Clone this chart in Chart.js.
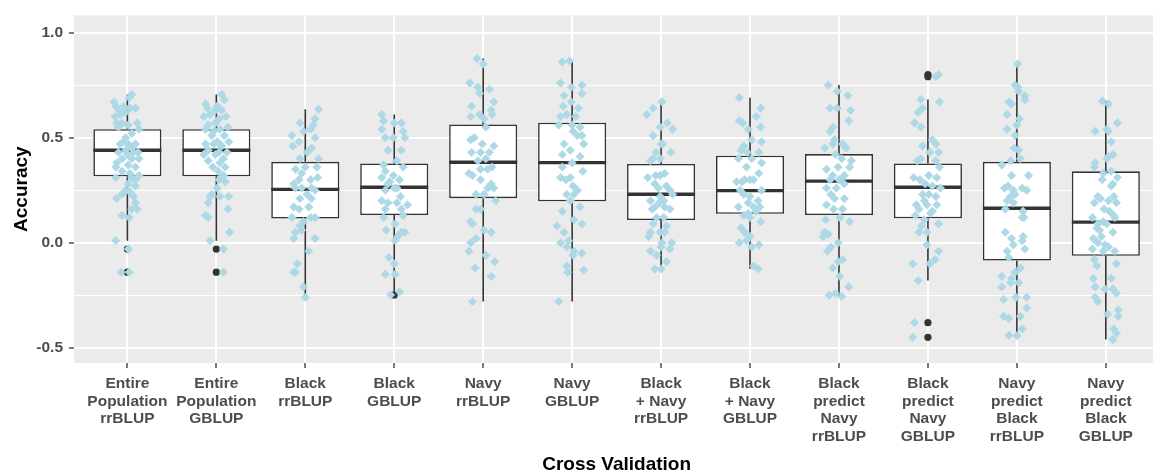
<!DOCTYPE html>
<html>
<head>
<meta charset="utf-8">
<script src="https://cdn.jsdelivr.net/npm/chart.js@4.4.1/dist/chart.umd.min.js"></script>
<style>
  html, body { margin: 0; padding: 0; background: #ffffff; overflow: hidden; width: 1153px; height: 476px; }
  canvas { display: block; }
</style>
</head>
<body>
<canvas id="chart" width="1164" height="476"></canvas>
<script>
// Cross-validation schemes (x categories), each label split into lines
const categoryLabels = [
  ['Entire', 'Population', 'rrBLUP'],
  ['Entire', 'Population', 'GBLUP'],
  ['Black', 'rrBLUP'],
  ['Black', 'GBLUP'],
  ['Navy', 'rrBLUP'],
  ['Navy', 'GBLUP'],
  ['Black', '+ Navy', 'rrBLUP'],
  ['Black', '+ Navy', 'GBLUP'],
  ['Black', 'predict', 'Navy', 'rrBLUP'],
  ['Black', 'predict', 'Navy', 'GBLUP'],
  ['Navy', 'predict', 'Black', 'rrBLUP'],
  ['Navy', 'predict', 'Black', 'GBLUP']
];

// Box summaries per scheme
const whiskerLow  = [0.01, 0.01, -0.26, -0.233, -0.28, -0.28, -0.125, -0.124, -0.256, -0.18, -0.442, -0.46];
const lowerQuart  = [0.316, 0.316, 0.115, 0.132, 0.212, 0.197, 0.108, 0.138, 0.132, 0.116, -0.085, -0.062];
const medians     = [0.44, 0.44, 0.254, 0.264, 0.383, 0.381, 0.231, 0.248, 0.293, 0.264, 0.164, 0.098];
const upperQuart  = [0.54, 0.54, 0.385, 0.377, 0.563, 0.571, 0.375, 0.414, 0.422, 0.377, 0.385, 0.34];
const whiskerHigh = [0.705, 0.705, 0.635, 0.61, 0.876, 0.865, 0.671, 0.69, 0.75, 0.682, 0.85, 0.675];

// Outlying runs: [scheme index, accuracy]
const outliers = [[0, -0.03], [0, -0.14], [1, -0.03], [1, -0.14], [3, -0.248],
                  [9, 0.80], [9, 0.79], [9, -0.38], [9, -0.45]];

// Individual runs per scheme: [jitter, accuracy]
const entirePopRR = [[0.05,0.705],[0.02,0.69],[-0.15,0.67],[-0.13,0.65],[-0.04,0.65],[0.09,0.64],[0.03,0.64],[-0.10,0.63],[-0.02,0.62],[-0.14,0.60],[-0.08,0.61],[0.11,0.57],[-0.12,0.57],[-0.06,0.57],[0.01,0.56],[0.13,0.54],[-0.10,0.55],[0.05,0.52],[-0.02,0.50],[-0.04,0.48],[-0.08,0.47],[0.01,0.47],[0.09,0.47],[0.05,0.45],[-0.02,0.44],[0.07,0.43],[0.12,0.43],[-0.10,0.43],[0.00,0.42],[-0.06,0.40],[0.05,0.40],[0.13,0.40],[-0.12,0.38],[0.01,0.37],[-0.13,0.36],[0.09,0.36],[-0.06,0.34],[0.03,0.33],[0.13,0.32],[0.05,0.31],[-0.13,0.31],[0.09,0.30],[0.01,0.28],[0.09,0.27],[-0.02,0.25],[0.03,0.24],[-0.06,0.23],[-0.12,0.21],[0.07,0.22],[0.09,0.19],[0.05,0.16],[0.11,0.16],[-0.06,0.13],[0.02,0.12],[-0.13,0.01],[0.01,-0.03],[-0.07,-0.14],[0.02,-0.14]];
const entirePopGB = [[0.06,0.705],[0.09,0.68],[-0.12,0.66],[0.01,0.65],[-0.10,0.64],[-0.01,0.63],[0.06,0.63],[-0.07,0.61],[-0.14,0.60],[0.03,0.59],[0.11,0.60],[-0.09,0.56],[-0.01,0.57],[0.13,0.55],[-0.12,0.54],[0.04,0.54],[0.09,0.51],[-0.05,0.51],[0.14,0.48],[0.01,0.48],[-0.12,0.47],[-0.03,0.47],[0.06,0.46],[-0.09,0.44],[0.03,0.43],[0.12,0.43],[-0.14,0.42],[-0.01,0.42],[0.08,0.40],[-0.09,0.39],[0.04,0.38],[-0.04,0.36],[0.10,0.36],[0.02,0.34],[0.08,0.32],[0.03,0.30],[0.10,0.29],[0.01,0.26],[-0.05,0.23],[0.14,0.22],[0.04,0.22],[-0.07,0.22],[0.13,0.16],[-0.09,0.19],[-0.12,0.13],[-0.09,0.12],[0.15,0.05],[-0.07,0.01],[0.08,-0.03],[0.08,-0.14],[0.03,0.47],[-0.03,0.53]];
const blackRR = [[0.15,0.635],[0.11,0.59],[-0.06,0.57],[0.09,0.56],[-0.02,0.53],[0.06,0.54],[-0.15,0.51],[-0.07,0.48],[0.11,0.50],[-0.14,0.46],[0.07,0.45],[0.02,0.43],[0.15,0.40],[-0.06,0.40],[-0.11,0.35],[0.00,0.36],[0.13,0.36],[-0.04,0.33],[0.14,0.31],[-0.13,0.28],[0.06,0.30],[-0.04,0.26],[-0.11,0.26],[0.11,0.25],[0.02,0.23],[-0.06,0.21],[0.07,0.21],[-0.13,0.17],[0.04,0.17],[-0.07,0.16],[-0.15,0.12],[0.06,0.12],[-0.02,0.10],[0.11,0.12],[-0.06,0.08],[-0.11,0.05],[-0.13,0.02],[-0.04,0.06],[0.11,0.02],[0.04,-0.04],[-0.09,-0.10],[-0.11,-0.14],[-0.13,-0.14],[-0.02,-0.21],[0.00,-0.26],[0.07,0.26],[-0.07,0.30]];
const blackGB = [[-0.14,0.61],[-0.12,0.58],[0.00,0.57],[0.08,0.57],[-0.14,0.54],[0.10,0.53],[-0.10,0.50],[-0.01,0.50],[0.12,0.50],[-0.07,0.44],[0.08,0.44],[-0.12,0.37],[0.03,0.39],[0.10,0.36],[-0.10,0.34],[-0.14,0.31],[-0.01,0.32],[0.06,0.30],[-0.07,0.28],[0.03,0.26],[-0.10,0.25],[0.07,0.22],[-0.14,0.20],[-0.07,0.19],[0.03,0.19],[0.15,0.18],[-0.10,0.16],[0.08,0.16],[-0.12,0.12],[0.10,0.13],[-0.09,0.06],[0.01,0.09],[0.08,0.05],[0.04,0.03],[0.12,0.05],[0.01,0.01],[-0.06,-0.07],[0.00,-0.10],[-0.10,-0.15],[0.01,-0.15],[0.06,-0.233],[-0.04,-0.248],[0.00,0.26],[-0.05,0.29]];
const navyRR = [[-0.07,0.876],[0.00,0.85],[-0.15,0.76],[-0.06,0.74],[0.07,0.73],[-0.04,0.71],[-0.13,0.65],[0.12,0.67],[0.09,0.63],[-0.14,0.60],[0.01,0.59],[0.10,0.61],[-0.04,0.61],[0.03,0.55],[-0.14,0.49],[-0.10,0.50],[-0.01,0.47],[0.12,0.46],[-0.13,0.43],[-0.03,0.43],[0.07,0.43],[0.03,0.40],[-0.06,0.39],[0.10,0.36],[0.05,0.35],[-0.16,0.33],[-0.03,0.35],[-0.12,0.32],[-0.03,0.30],[0.09,0.28],[0.05,0.26],[0.12,0.26],[-0.08,0.23],[0.01,0.23],[0.14,0.20],[-0.08,0.16],[-0.03,0.16],[-0.14,0.10],[-0.12,0.09],[0.01,0.06],[0.09,0.05],[-0.08,0.02],[-0.14,0.00],[-0.16,-0.04],[0.03,-0.06],[0.13,-0.09],[-0.09,-0.12],[0.09,-0.16],[-0.12,-0.28]];
const navyGB = [[-0.11,0.86],[-0.03,0.865],[-0.13,0.76],[-0.01,0.74],[0.11,0.75],[-0.09,0.70],[0.11,0.71],[-0.01,0.67],[-0.10,0.65],[0.07,0.64],[-0.06,0.61],[0.04,0.60],[-0.13,0.60],[-0.15,0.56],[0.00,0.56],[0.09,0.55],[0.01,0.53],[0.06,0.51],[0.11,0.51],[0.13,0.47],[-0.09,0.47],[-0.02,0.44],[-0.11,0.42],[0.09,0.41],[-0.11,0.36],[0.00,0.38],[0.12,0.34],[-0.13,0.31],[-0.02,0.31],[0.01,0.27],[-0.07,0.30],[0.06,0.25],[0.02,0.23],[-0.06,0.23],[0.09,0.17],[-0.11,0.15],[0.02,0.11],[0.11,0.09],[-0.17,0.08],[-0.09,0.05],[-0.13,0.00],[-0.04,0.01],[-0.06,-0.02],[0.02,-0.04],[0.11,-0.05],[0.01,-0.06],[-0.06,-0.11],[-0.05,-0.14],[0.13,-0.13],[-0.15,-0.28],[-0.02,0.20]];
const blackNavyRR = [[0.01,0.671],[-0.09,0.64],[-0.16,0.61],[-0.01,0.55],[0.07,0.57],[0.13,0.54],[-0.09,0.51],[0.00,0.47],[0.02,0.47],[0.11,0.43],[-0.06,0.43],[-0.09,0.40],[-0.01,0.40],[-0.12,0.39],[0.04,0.33],[-0.15,0.31],[-0.06,0.32],[-0.01,0.32],[-0.07,0.28],[0.06,0.27],[0.10,0.25],[-0.03,0.26],[0.13,0.23],[-0.12,0.20],[-0.01,0.22],[-0.07,0.17],[0.04,0.17],[-0.10,0.16],[0.10,0.16],[-0.05,0.12],[0.03,0.12],[-0.09,0.09],[0.06,0.08],[-0.12,0.05],[-0.01,0.05],[-0.14,0.03],[0.04,0.05],[0.01,0.00],[0.12,0.00],[0.00,-0.02],[-0.12,-0.04],[0.10,-0.03],[-0.05,-0.06],[0.06,-0.09],[-0.07,-0.125],[0.00,-0.125],[-0.02,0.19],[0.03,0.20]];
const blackNavyGB = [[-0.12,0.69],[0.12,0.64],[0.07,0.60],[-0.12,0.58],[-0.08,0.57],[0.12,0.55],[-0.02,0.54],[0.02,0.49],[0.13,0.48],[-0.07,0.46],[-0.10,0.44],[-0.03,0.43],[0.10,0.43],[-0.13,0.40],[0.02,0.40],[0.13,0.38],[-0.04,0.36],[0.10,0.33],[0.00,0.30],[-0.15,0.29],[-0.09,0.29],[-0.06,0.30],[0.04,0.30],[-0.11,0.25],[0.13,0.25],[-0.07,0.23],[0.00,0.22],[0.09,0.20],[-0.13,0.17],[0.04,0.17],[-0.02,0.14],[0.11,0.17],[0.07,0.15],[-0.07,0.13],[0.00,0.12],[0.12,0.10],[-0.10,0.07],[-0.06,0.05],[0.00,0.03],[-0.12,0.00],[-0.04,0.01],[0.10,-0.01],[0.02,-0.02],[0.04,-0.11],[0.09,-0.124],[-0.02,0.19]];
const blackPredNavyRR = [[-0.12,0.75],[-0.02,0.72],[0.10,0.70],[-0.10,0.64],[-0.02,0.64],[0.13,0.63],[0.11,0.58],[-0.07,0.55],[-0.10,0.53],[-0.05,0.49],[-0.07,0.47],[0.04,0.47],[-0.16,0.45],[0.08,0.45],[-0.04,0.42],[0.14,0.39],[0.03,0.40],[-0.14,0.35],[-0.01,0.36],[0.12,0.36],[-0.07,0.32],[0.06,0.32],[-0.10,0.30],[0.01,0.30],[-0.14,0.26],[-0.03,0.26],[0.06,0.28],[-0.09,0.23],[-0.05,0.21],[0.06,0.21],[-0.14,0.18],[0.04,0.16],[-0.06,0.16],[0.01,0.12],[0.12,0.10],[-0.15,0.11],[-0.16,0.05],[-0.12,0.04],[-0.18,0.03],[-0.01,0.00],[-0.09,-0.02],[-0.13,-0.04],[0.04,-0.08],[-0.01,-0.09],[-0.07,-0.12],[0.01,-0.16],[0.11,-0.21],[-0.11,-0.25],[-0.04,-0.24],[0.03,-0.256],[0.00,0.30]];
const blackPredNavyGB = [[0.09,0.79],[0.12,0.80],[-0.08,0.682],[0.13,0.67],[-0.06,0.64],[-0.11,0.62],[-0.15,0.57],[-0.08,0.55],[0.05,0.49],[0.09,0.47],[-0.06,0.46],[0.12,0.43],[0.02,0.43],[-0.12,0.39],[-0.08,0.40],[0.09,0.39],[0.13,0.36],[-0.16,0.31],[-0.09,0.30],[0.01,0.32],[0.10,0.31],[-0.03,0.28],[0.05,0.27],[0.14,0.26],[-0.06,0.23],[0.01,0.23],[0.09,0.22],[-0.13,0.18],[-0.01,0.18],[0.10,0.18],[-0.10,0.16],[0.05,0.15],[-0.14,0.13],[-0.04,0.11],[0.12,0.09],[-0.07,0.08],[-0.10,0.05],[-0.01,0.05],[-0.01,-0.01],[0.12,-0.04],[0.08,-0.08],[0.02,-0.10],[-0.17,-0.10],[-0.11,-0.18],[-0.15,-0.38],[-0.17,-0.45],[0.03,0.14],[-0.04,0.20]];
const navyPredBlackRR = [[0.01,0.85],[-0.02,0.75],[0.01,0.74],[0.02,0.72],[0.09,0.70],[0.09,0.68],[-0.09,0.67],[-0.06,0.66],[-0.11,0.61],[0.03,0.59],[0.00,0.56],[-0.11,0.54],[-0.02,0.51],[-0.03,0.45],[0.02,0.44],[0.04,0.40],[-0.07,0.39],[-0.17,0.37],[0.13,0.32],[-0.06,0.32],[-0.14,0.26],[-0.10,0.27],[-0.04,0.25],[0.06,0.26],[0.11,0.25],[-0.07,0.22],[-0.02,0.23],[-0.11,0.20],[-0.04,0.19],[-0.13,0.16],[0.07,0.15],[0.08,0.12],[0.06,0.12],[-0.13,0.05],[-0.06,0.02],[0.07,0.03],[0.06,0.01],[-0.04,-0.01],[0.09,-0.03],[-0.11,-0.04],[-0.09,-0.07],[0.04,-0.12],[-0.02,-0.14],[-0.06,-0.17],[-0.17,-0.16],[-0.17,-0.21],[-0.07,-0.19],[0.02,-0.19],[-0.01,-0.26],[0.11,-0.26],[-0.15,-0.27],[0.11,-0.31],[0.04,-0.35],[-0.15,-0.35],[-0.09,-0.36],[0.06,-0.41],[-0.09,-0.44],[0.00,-0.442]];
const navyPredBlackGB = [[-0.04,0.675],[0.03,0.66],[0.13,0.57],[-0.12,0.53],[0.01,0.54],[0.03,0.53],[0.06,0.48],[0.08,0.42],[0.03,0.41],[-0.12,0.38],[0.01,0.40],[-0.13,0.36],[0.06,0.34],[-0.03,0.33],[0.13,0.31],[-0.04,0.30],[0.08,0.28],[0.06,0.27],[-0.09,0.22],[-0.06,0.21],[0.03,0.20],[0.09,0.22],[-0.13,0.19],[0.12,0.19],[-0.02,0.16],[0.04,0.15],[0.09,0.13],[-0.15,0.12],[0.10,0.12],[-0.09,0.09],[-0.03,0.10],[0.01,0.09],[-0.10,0.07],[-0.07,0.06],[0.08,0.05],[-0.05,0.03],[-0.14,0.02],[-0.09,0.00],[-0.01,-0.01],[0.03,-0.02],[-0.15,-0.03],[-0.03,-0.04],[0.10,-0.04],[-0.13,-0.08],[-0.10,-0.11],[0.12,-0.10],[-0.14,-0.17],[0.06,-0.17],[-0.12,-0.21],[-0.01,-0.22],[0.08,-0.22],[0.12,-0.24],[-0.12,-0.26],[-0.09,-0.28],[0.02,-0.34],[0.14,-0.32],[0.14,-0.35],[0.09,-0.41],[0.12,-0.43],[0.08,-0.46]];

const runsByScheme = [entirePopRR, entirePopGB, blackRR, blackGB, navyRR, navyGB,
                      blackNavyRR, blackNavyGB, blackPredNavyRR, blackPredNavyGB,
                      navyPredBlackRR, navyPredBlackGB];

// y-axis ticks: labelled majors and unlabelled minors
const yTickValues = [-0.5, -0.25, 0, 0.25, 0.5, 0.75, 1.0];
const yMajorTicks = [-0.5, 0, 0.5, 1.0];

const FONT = "'Liberation Sans', Arial, Helvetica, sans-serif";
const INK = '#333333';
const isMajor = v => yMajorTicks.some(m => Math.abs(m - v) < 1e-9);

// Grey panel behind the grid
const panelBackground = {
  id: 'panelBackground',
  beforeDraw(chart) {
    const { ctx, chartArea: a } = chart;
    ctx.save();
    ctx.fillStyle = '#EBEBEB';
    ctx.fillRect(a.left, a.top, a.right - a.left, a.bottom - a.top);
    ctx.restore();
  }
};

// Whiskers (under the boxes) and median bars (over the boxes)
const boxParts = {
  id: 'boxParts',
  beforeDatasetDraw(chart, args) {
    if (args.index !== 0) return;
    const { ctx, scales: { x, y } } = chart;
    ctx.save();
    ctx.strokeStyle = INK;
    ctx.lineWidth = 1.6;
    ctx.beginPath();
    categoryLabels.forEach((_, i) => {
      const px = x.getPixelForValue(i);
      ctx.moveTo(px, y.getPixelForValue(upperQuart[i]));
      ctx.lineTo(px, y.getPixelForValue(whiskerHigh[i]));
      ctx.moveTo(px, y.getPixelForValue(lowerQuart[i]));
      ctx.lineTo(px, y.getPixelForValue(whiskerLow[i]));
    });
    ctx.stroke();
    ctx.restore();
  },
  afterDatasetDraw(chart, args) {
    if (args.index !== 0) return;
    const { ctx, scales: { y } } = chart;
    const bars = chart.getDatasetMeta(0).data;
    ctx.save();
    ctx.strokeStyle = INK;
    ctx.lineWidth = 3.4;
    ctx.beginPath();
    bars.forEach((bar, i) => {
      const py = y.getPixelForValue(medians[i]);
      ctx.moveTo(bar.x - bar.width / 2, py);
      ctx.lineTo(bar.x + bar.width / 2, py);
    });
    ctx.stroke();
    ctx.restore();
  }
};

const boxData = categoryLabels.map((_, i) => ({ x: i, y: [lowerQuart[i], upperQuart[i]] }));
const outlierData = outliers.map(([i, v]) => ({ x: i, y: v }));
const runData = runsByScheme.flatMap((runs, i) => runs.map(([j, v]) => ({ x: i + j, y: v })));

new Chart(document.getElementById('chart'), {
  type: 'bar',
  data: {
    datasets: [
      {
        type: 'bar',
        data: boxData,
        backgroundColor: '#FFFFFF',
        borderColor: INK,
        borderWidth: 1.6,
        borderSkipped: false,
        categoryPercentage: 1,
        barPercentage: 0.765,
        order: 3
      },
      {
        type: 'scatter',
        data: outlierData,
        pointStyle: 'circle',
        pointRadius: 3.6,
        backgroundColor: INK,
        borderColor: INK,
        borderWidth: 0,
        order: 2
      },
      {
        type: 'scatter',
        data: runData,
        pointStyle: 'rectRot',
        pointRadius: 4.2,
        backgroundColor: '#ADD8E6',
        borderColor: '#ADD8E6',
        borderWidth: 0.6,
        order: 1
      }
    ]
  },
  options: {
    responsive: false,
    animation: false,
    devicePixelRatio: 1,
    events: [],
    layout: { padding: { top: 7, right: 1, left: 0, bottom: 0 } },
    plugins: { legend: { display: false }, tooltip: { enabled: false } },
    scales: {
      x: {
        type: 'linear',
        offset: false,
        min: -0.6,
        max: 11.6,
        afterBuildTicks(scale) { scale.ticks = categoryLabels.map((_, i) => ({ value: i })); },
        afterFit(scale) { scale.height = 113; },
        border: { display: false },
        grid: { offset: false, color: '#FFFFFF', lineWidth: 2, drawTicks: true, tickLength: 5, tickColor: INK, tickWidth: 1.3 },
        ticks: {
          autoSkip: false, maxRotation: 0, minRotation: 0, padding: 7,
          color: '#4D4D4D',
          font: { family: FONT, size: 15.5, weight: 'bold', lineHeight: '17.5px' },
          callback: v => categoryLabels[Math.round(v)]
        },
        title: {
          display: true, text: 'Cross Validation', color: '#000000',
          font: { family: FONT, size: 19, weight: 'bold' },
          padding: { top: 0, bottom: 0 }
        }
      },
      y: {
        type: 'linear',
        min: -0.572,
        max: 1.082,
        afterBuildTicks(scale) { scale.ticks = yTickValues.map(v => ({ value: v })); },
        afterFit(scale) { scale.width = 74; },
        border: { display: false },
        grid: {
          color: '#FFFFFF',
          lineWidth: ctx => (ctx.tick && isMajor(ctx.tick.value)) ? 2 : 1,
          drawTicks: true, tickLength: 5,
          tickColor: ctx => (ctx.tick && isMajor(ctx.tick.value)) ? INK : 'rgba(0,0,0,0)',
          tickWidth: 1.3
        },
        ticks: {
          padding: 6,
          color: '#4D4D4D',
          font: { family: FONT, size: 15.5, weight: 'bold' },
          callback: v => isMajor(v) ? v.toFixed(1) : ''
        },
        title: {
          display: true, text: 'Accuracy', color: '#000000',
          font: { family: FONT, size: 19, weight: 'bold' },
          padding: { top: 10, bottom: 0 }
        }
      }
    }
  },
  plugins: [panelBackground, boxParts]
});
</script>
</body>
</html>
